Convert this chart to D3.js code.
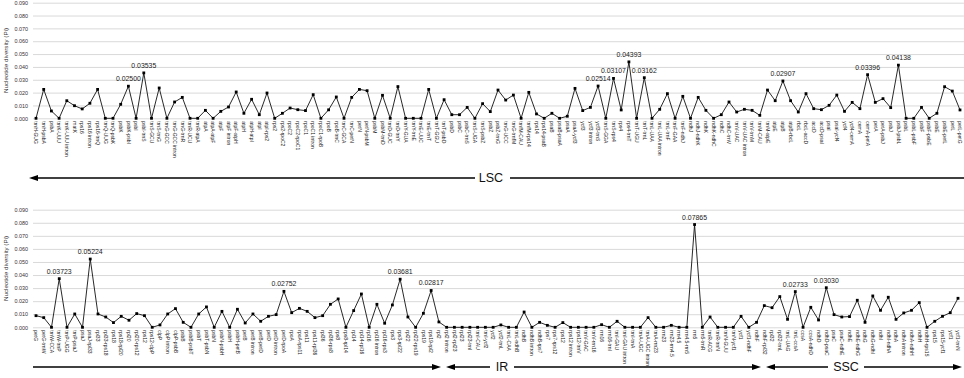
<!DOCTYPE html>
<html>
<head>
<meta charset="utf-8">
<script src="https://cdn.jsdelivr.net/npm/d3@7"></script>
<style>
  body { margin: 0; background: #fff; }
  svg { display: block; font-family: "Liberation Sans", Arial, sans-serif; }
</style>
</head>
<body>
<svg id="chart" width="964" height="378"></svg>
<script>
// LSC part (top panel)
const lscGenes = ["trnH-GUG","trnH-psbA","psbA","trnK-UUU","trnK-UUU intron","matK","rps16","rps16 intron","rps16-trnQ","trnQ-UUG",
  "trnQ-psbK","psbK","psbK-psbI","psbI","psbI-trnS","trnS-GCU","trnS-trnG","trnG-GCC","trnG-GCC intron","trnG-trnR",
  "trnR-UCU","trnR-atpA","atpA","atpA-atpF","atpF","atpF intron","atpF-atpH","atpH","atpH-atpI","atpI",
  "atpI-rps2","rps2","rps2-rpoC2","rpoC2","rpoC2-rpoC1","rpoC1","rpoC1 intron","rpoC1-rpoB","rpoB","rpoB-trnC",
  "trnC-GCA","trnC-petN","petN","petN-psbM","psbM","psbM-trnD","trnD-GUC","trnD-trnY","trnY-GUA","trnY-trnE",
  "trnE-UUC","trnE-trnT","trnT-GGU","trnT-psbD","psbD","psbC","psbC-trnS","trnS-UGA","trnS-psbZ","psbZ",
  "psbZ-trnG","trnG-UCC","trnG-trnfM","trnfM-CAU","trnfM-rps14","rps14","rps14-psaB","psaB","psaB-psaA","psaA",
  "psaA-ycf3","ycf3","ycf3 intron","ycf3-trnS","trnS-GGA","trnS-rps4","rps4","rps4-trnT","trnT-UGU","trnT-trnL",
  "trnL-UAA","trnL-UAA intron","trnL-trnF","trnF-GAA","trnF-ndhJ","ndhJ","ndhJ-ndhK","ndhK","ndhK-ndhC","ndhC",
  "ndhC-trnV","trnV-UAC","trnV-UAC intron","trnV-trnM","trnM-CAU","trnM-atpE","atpE","atpB","atpB-rbcL","rbcL",
  "rbcL-accD","accD","accD-psaI","psaI","psaI-ycf4","ycf4","ycf4-cemA","cemA","cemA-petA","petA",
  "petA-psbJ","psbJ","psbJ-psbL","psbL","psbL-psbF","psbF","psbF-psbE","psbE","psbE-petL","petL","petL-petG"];
const lscPi = [0,0.0225,0.0057,0,0.0137,0.0098,0.0073,0.0117,0.0225,0,
  0,0.0109,0.02500,0,0.03535,0,0.0236,0,0.0127,0.0163,
  0,0,0.0062,0,0.0054,0.0088,0.0205,0.0039,0.0148,0.0028,
  0.0197,0,0.0039,0.0080,0.0067,0.0060,0.0184,0,0.0066,0.0166,
  0,0.0163,0.0225,0.0215,0,0.0179,0,0.0247,0,0,
  0,0.0225,0,0.0145,0.0028,0.0028,0.0085,0,0.0114,0.0052,
  0.0220,0.0142,0.0181,0,0.0202,0.0034,0,0.0039,0,0.0016,
  0.0233,0.0060,0.0085,0.02514,0,0.03107,0.0065,0.04393,0,0.03162,
  0,0.0070,0.0192,0,0.0171,0,0.0163,0.0062,0,0.0028,
  0.0127,0.0049,0.0070,0.0062,0.0023,0.0220,0.0137,0.02907,0.0137,0.0049,
  0.0192,0.0075,0.0067,0.0101,0.0181,0.0054,0.0124,0.0075,0.03396,0.0124,
  0.0153,0.0083,0.04138,0,0,0.0085,0,0.0039,0.0246,0.0212,0.0065];
const lscMarked = [12,14,73,75,77,79,97,108,112];

// LSC end, IR and SSC (bottom panel)
const restGenes = ["petG","petG-trnW","trnW-CCA","trnW-trnP","trnP-UGG","trnP-psaJ","psaJ","psaJ-rpl33","rpl33","rpl33-rps18",
  "rps18","rps18-rpl20","rpl20","rpl20-rps12","rps12","rps12-clpP","clpP","clpP intron","clpP-psbB","psbB",
  "psbB-psbT","psbT","psbT-psbN","psbN","psbN-psbH","psbH","psbH-petB","petB","petB intron","petB-petD",
  "petD","petD intron","petD-rpoA","rpoA","rpoA-rps11","rps11","rps11-rpl36","rpl36","rpl36-rps8","rps8",
  "rps8-rpl14","rpl14","rpl14-rpl16","rpl16","rpl16 intron","rpl16-rps3","rps3","rps3-rpl22","rpl22","rpl22-rps19",
  "rps19","rps19-rpl2","rpl2","rpl2 intron","rpl2-rpl23","rpl23","rpl23-trnI","trnI-CAU","trnI-ycf2","ycf2",
  "ycf2-trnL","trnL-CAA","trnL-ndhB","ndhB","ndhB intron","ndhB-rps7","rps7","rps7-rps12","rps12 ","rps12 intron",
  "rps12-trnV","trnV-GAC","trnV-rrn16","rrn16","rrn16-trnI","trnI-GAU","trnI-GAU intron","trnI-trnA","trnA-UGC","trnA-UGC intron",
  "trnA-rrn23","rrn23","rrn23-rrn4.5","rrn4.5","rrn4.5-rrn5","rrn5","rrn5-trnR","trnR-ACG","trnR-trnN","trnN-GUU",
  "trnN-ycf1","ycf1","ycf1-ndhF","ndhF","ndhF-rpl32","rpl32","rpl32-trnL","trnL-UAG","trnL-ccsA","ccsA",
  "ccsA-ndhD","ndhD","ndhD-psaC","psaC","psaC-ndhE","ndhE","ndhE-ndhG","ndhG","ndhG-ndhI","ndhI",
  "ndhI-ndhA","ndhA","ndhA intron","ndhA-ndhH","ndhH","ndhH-rps15","rps15","rps15-ycf1","ycf1 ","ycf1-trnN"];
const restPi = [0.0089,0.0074,0,0.03723,0,0.0102,0,0.05224,0.0102,0.0079,
  0.0036,0.0084,0.0054,0.0105,0.0089,0,0.0018,0.0102,0.0143,0.0038,
  0,0.0102,0.0156,0,0.0122,0,0.0138,0.0033,0.0102,0.0046,
  0.0084,0.0097,0.02752,0.0112,0.0145,0.0122,0.0074,0.0089,0.0176,0.0217,
  0,0.0128,0.0255,0,0.0176,0.0031,0.0171,0.03681,0.0079,0,
  0.0107,0.02817,0.0041,0,0,0,0,0,0,0,
  0.0018,0,0,0.0117,0,0.0038,0.0015,0,0.0036,0,
  0,0,0,0.0020,0,0.0046,0,0,0,0.0074,
  0,0,0.0015,0,0,0.07865,0,0.0079,0,0,
  0,0.0084,0,0.0038,0.0166,0.0150,0.0235,0.0061,0.02733,0,
  0.0153,0.0056,0.03030,0.0097,0.0079,0.0082,0.0207,0.0038,0.0240,0.0130,
  0.0230,0.0061,0.0110,0.0130,0.0189,0,0.0046,0.0084,0.0112,0.0222];
const restMarked = [3,7,32,47,51,85,98,102];

const yTicks = [0,0.01,0.02,0.03,0.04,0.05,0.06,0.07,0.08,0.09];
const yTitle = "Nucleotide diversity (Pi)";

const svg = d3.select("#chart");
const W = 964;

function drawPanel(genes, pi, marked, top, bottom, left, right) {
  const g = svg.append("g");
  const x = d3.scalePoint().domain(d3.range(genes.length)).range([left, right]);
  const y = d3.scaleLinear().domain([0, 0.09]).range([bottom, top]);

  // gridlines + tick labels
  const ax = g.append("g")
      .attr("transform", "translate(33,0)")
      .call(d3.axisLeft(y).tickValues(yTicks).tickSize(-(W - 33)).tickPadding(5)
        .tickFormat(d3.format(".3f")));
  ax.select(".domain").remove();
  ax.selectAll("line").attr("stroke", "#d9d9d9").attr("stroke-width", 1);
  ax.selectAll("text").attr("font-size", 5.4).attr("fill", "#333").attr("font-family", "Liberation Sans, Arial, sans-serif");

  g.append("text")
      .attr("transform", `translate(7.5,${(top + bottom) / 2}) rotate(-90)`)
      .attr("text-anchor", "middle")
      .attr("font-size", 6.2)
      .attr("fill", "#333")
      .text(yTitle);

  // line
  g.append("path")
      .datum(pi)
      .attr("fill", "none")
      .attr("stroke", "#111")
      .attr("stroke-width", 0.9)
      .attr("d", d3.line().x((d, i) => x(i)).y(d => y(d)));

  g.selectAll("rect.pt")
    .data(pi)
    .join("rect")
      .attr("class", "pt")
      .attr("x", (d, i) => x(i) - 1.4)
      .attr("y", d => y(d) - 1.4)
      .attr("width", 2.8)
      .attr("height", 2.8)
      .attr("fill", "#000");

  // peak value labels
  g.selectAll("text.val")
    .data(marked)
    .join("text")
      .attr("class", "val")
      .attr("x", i => x(i))
      .attr("y", i => y(pi[i]) - 5)
      .attr("text-anchor", "middle")
      .attr("font-size", 6.9)
      .attr("fill", "#222")
      .text(i => pi[i].toFixed(5));

  // category labels
  g.selectAll("text.cat")
    .data(genes)
    .join("text")
      .attr("class", "cat")
      .attr("transform", (d, i) => `translate(${x(i)},${bottom + 3}) rotate(90)`)
      .attr("dy", "0.35em")
      .attr("font-size", 5)
      .attr("fill", "#222")
      .text(d => d.trim());
}

drawPanel(lscGenes, lscPi, lscMarked, 2.7, 118.3, 36, 960);
drawPanel(restGenes, restPi, restMarked, 209.7, 327.3, 36, 958);

// region arrows
function arrow(x1, x2, yy, headLeft, headRight) {
  svg.append("line").attr("x1", x1 + (headLeft ? 6 : 0)).attr("x2", x2 - (headRight ? 6 : 0))
    .attr("y1", yy).attr("y2", yy).attr("stroke", "#000").attr("stroke-width", 1.4);
  if (headLeft) svg.append("path").attr("d", `M${x1},${yy}L${x1 + 9},${yy - 3}L${x1 + 9},${yy + 3}Z`).attr("fill", "#000");
  if (headRight) svg.append("path").attr("d", `M${x2},${yy}L${x2 - 9},${yy - 3}L${x2 - 9},${yy + 3}Z`).attr("fill", "#000");
}
function regionLabel(txt, cx, yy) {
  svg.append("text").attr("x", cx).attr("y", yy).attr("dy", "0.35em")
    .attr("text-anchor", "middle").attr("font-size", 12.5).attr("fill", "#111").text(txt);
}

arrow(29, 475, 178, true, false);
arrow(510, 964, 178, false, false);
regionLabel("LSC", 491, 178);

arrow(33, 441, 367, false, true);
arrow(446, 490, 367, true, false);
arrow(514, 761, 367, false, true);
regionLabel("IR", 502, 367);
arrow(766, 828, 367, true, false);
arrow(864, 962, 367, false, true);
regionLabel("SSC", 846, 367);
</script>
</body>
</html>
